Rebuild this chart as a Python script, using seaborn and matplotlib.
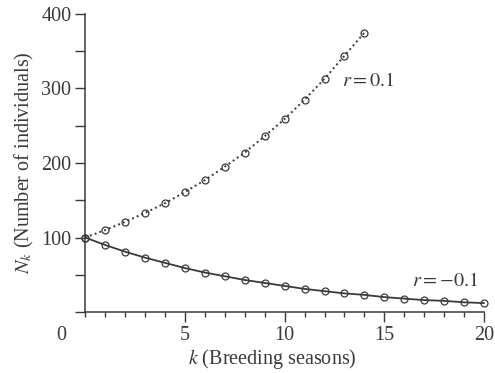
import matplotlib
matplotlib.use("Agg")
import matplotlib.pyplot as plt
import pandas as pd
import seaborn as sns
from matplotlib.ticker import MultipleLocator

# values
k_grow = list(range(0, 15))
n_grow = [100, 110, 121, 133, 146, 161, 177, 195, 214, 236, 259, 285, 313, 344, 375]
k_decay = list(range(0, 21))
n_decay = [100, 90, 81, 73, 66, 59, 53, 48, 43, 39, 35, 31, 28, 25, 23, 20, 18, 16, 15, 13, 12]

label_grow = "$r = 0.1$"
label_decay = "$r = -0.1$"
x_label = "$k$ (Breeding seasons)"
y_label = "$N_k$ (Number of individuals)"

ink = "#3a3a3a"
fs = 14.5

sns.set_style("ticks")
plt.rcParams["font.family"] = ["Liberation Serif", "DejaVu Serif"]
plt.rcParams["mathtext.fontset"] = "stix"
plt.rcParams["font.size"] = fs

grow = pd.DataFrame({"k": k_grow, "N": n_grow})
decay = pd.DataFrame({"k": k_decay, "N": n_decay})

fig = plt.figure(figsize=(4.95, 3.73), dpi=100)
ax = fig.add_axes([0.172, 0.1635, 0.806, 0.799])

common = dict(marker="o", markersize=5, markerfacecolor="none",
              markeredgecolor=ink, markeredgewidth=0.9, color=ink, clip_on=False)
sns.lineplot(data=grow, x="k", y="N", ax=ax, linestyle=(0, (1, 1.6)), linewidth=1.4, **common)
sns.lineplot(data=decay, x="k", y="N", ax=ax, linestyle="-", linewidth=1.3, **common)

ax.set_xlim(0, 20)
ax.set_ylim(0, 400)
ax.xaxis.set_major_locator(MultipleLocator(5))
ax.xaxis.set_minor_locator(MultipleLocator(1))
ax.yaxis.set_major_locator(MultipleLocator(100))
ax.yaxis.set_minor_locator(MultipleLocator(50))
ax.set_xticks([5, 10, 15, 20])
ax.set_yticks([100, 200, 300, 400])

ax.tick_params(axis="both", which="both", colors=ink, width=1.0, labelcolor=ink, labelsize=fs)
ax.tick_params(axis="x", which="major", length=7, pad=3)
ax.tick_params(axis="x", which="minor", length=3.5)
ax.tick_params(axis="y", which="both", length=7, pad=3)

sns.despine(ax=ax)
for side in ("left", "bottom"):
    ax.spines[side].set_color(ink)
    ax.spines[side].set_linewidth(1.1)

ax.set_xlabel(x_label, color=ink, fontsize=fs)
ax.xaxis.set_label_coords(0.47, -0.118)
ax.set_ylabel(y_label, color=ink, fontsize=fs, labelpad=4)

ax.annotate("0", xy=(0, 0), xytext=(-17, -10), textcoords="offset points",
            ha="center", va="top", color=ink, fontsize=fs, annotation_clip=False)

ax.text(12.9, 310, label_grow, ha="left", va="center", color=ink, fontsize=fs)
ax.text(16.4, 41, label_decay, ha="left", va="center", color=ink, fontsize=fs)

fig.savefig("out.png", dpi=100)
